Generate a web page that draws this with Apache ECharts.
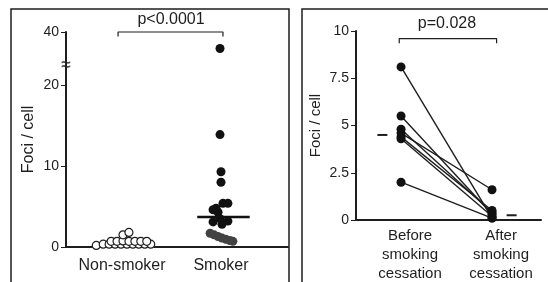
<!DOCTYPE html>
<html>
<head>
    <meta charset="utf-8">
    <title>Foci per cell</title>
</head>
<body style="margin:0;background:#fff;">
    <div id="main" style="width: 548px;height:282px;"></div>
</body>
<script src="https://cdn.jsdelivr.net/npm/echarts@6/dist/echarts.min.js"></script>
<script>
// left panel: smokers vs non-smokers (x = group position with jitter)
var groupNames = ['Non-smoker', 'Smoker'];
var nonSmokerX = [0.74, 0.81, 0.87, 0.93, 0.99, 1.05, 1.11, 1.17, 1.23, 1.29, 0.89, 0.95, 1.01, 1.07, 1.13, 1.19, 1.25, 1.01, 1.07];
var nonSmokerFoci = [0.2, 0.35, 0.35, 0.35, 0.35, 0.35, 0.35, 0.35, 0.35, 0.35, 0.7, 0.7, 0.75, 0.7, 0.7, 0.7, 0.7, 1.5, 1.8];
var smokerX = [1.99, 1.99, 2.00, 2.00, 2.02, 2.07, 1.95, 1.92, 1.97, 1.92, 2.07, 2.01, 1.99];
var smokerFoci = [38, 13.9, 9.3, 8.0, 5.4, 5.4, 4.8, 4.6, 4.3, 3.1, 3.2, 2.8, 3.5];
var smokerLowX = [1.89, 1.93, 1.97, 2.01, 2.05, 2.09, 2.12];
var smokerLowFoci = [1.7, 1.5, 1.3, 1.1, 0.95, 0.8, 0.7];
var smokerMedian = 3.7;
var leftTicksLow = [0, 10, 20];
var leftTicksHigh = [40];
var leftBreak = [22.5, 36];   // axis is cut between these two values

// right panel: paired values before / after cessation
var pairNames = ['Before\nsmoking\ncessation', 'After\nsmoking\ncessation'];
var beforeFoci = [8.1, 5.5, 4.8, 4.6, 4.4, 4.3, 2.0];
var afterFoci = [0.1, 0.3, 0.4, 1.6, 0.5, 0.2, 0.1];
var beforeMean = 4.5;
var afterMean = 0.25;

var ink = '#1e1e1e';
var font = 'Liberation Sans, Arial, sans-serif';
var xMinL = 0.434, xMaxL = 2.677;

var myChart = echarts.init(document.getElementById('main'));

var smokerPts = smokerX.map(function (x, i) { return [x, smokerFoci[i]]; });
var smokerLower = smokerPts.filter(function (p) { return p[1] <= leftBreak[0]; });
var smokerUpper = smokerPts.filter(function (p) { return p[1] >= leftBreak[1]; });

var series = [];
// left, lower part of the cut axis
series.push({
    type: 'scatter', xAxisIndex: 0, yAxisIndex: 0,
    symbolSize: 8,
    itemStyle: { color: '#fff', borderColor: ink, borderWidth: 1.2, opacity: 1 },
    data: nonSmokerX.map(function (x, i) { return [x, nonSmokerFoci[i]]; }),
    z: 3
});
series.push({
    type: 'scatter', xAxisIndex: 0, yAxisIndex: 0,
    symbolSize: 9,
    itemStyle: { color: '#424242', opacity: 1 },
    data: smokerLowX.map(function (x, i) { return [x, smokerLowFoci[i]]; }),
    z: 3
});
series.push({
    type: 'scatter', xAxisIndex: 0, yAxisIndex: 0,
    symbolSize: 9,
    itemStyle: { color: '#111', opacity: 1 },
    data: smokerLower,
    z: 3
});
series.push({
    type: 'line', xAxisIndex: 0, yAxisIndex: 0,
    symbol: 'none', silent: true,
    lineStyle: { color: '#111', width: 2.5 },
    data: [[1.76, smokerMedian], [2.29, smokerMedian]],
    z: 4
});
// break mark on the left y axis
series.push({
    type: 'scatter', xAxisIndex: 0, yAxisIndex: 0,
    symbolSize: 1, silent: true, clip: false,
    itemStyle: { color: 'rgba(0,0,0,0)' },
    label: { show: true, position: 'inside', formatter: '\u2248', fontSize: 17, fontWeight: 'bold', color: ink, fontFamily: font },
    data: [[xMinL, leftBreak[0]]],
    z: 5
});
// left, upper part
series.push({
    type: 'scatter', xAxisIndex: 1, yAxisIndex: 1,
    symbolSize: 9, clip: false,
    itemStyle: { color: '#111', opacity: 1 },
    data: smokerUpper,
    z: 3
});
series.push({
    type: 'line', xAxisIndex: 1, yAxisIndex: 1,
    symbol: 'none', silent: true, clip: false,
    lineStyle: { color: ink, width: 1.2 },
    data: [[0.96, 39.45], [0.96, 40], [2.02, 40], [2.02, 39.45]]
});

// right: one line per person
beforeFoci.forEach(function (b, i) {
    series.push({
        type: 'line', xAxisIndex: 2, yAxisIndex: 2,
        symbol: 'circle', symbolSize: 9,
        itemStyle: { color: '#111' },
        lineStyle: { color: ink, width: 1.4 },
        data: [[1, b], [2, afterFoci[i]]]
    });
});
series.push({
    type: 'line', xAxisIndex: 2, yAxisIndex: 2,
    symbol: 'none', silent: true,
    lineStyle: { color: ink, width: 2 },
    data: [[0.74, beforeMean], [0.85, beforeMean]]
});
series.push({
    type: 'line', xAxisIndex: 2, yAxisIndex: 2,
    symbol: 'none', silent: true,
    lineStyle: { color: ink, width: 2 },
    data: [[2.16, afterMean], [2.27, afterMean]]
});
series.push({
    type: 'line', xAxisIndex: 2, yAxisIndex: 2,
    symbol: 'none', silent: true, clip: false,
    lineStyle: { color: ink, width: 1.2 },
    data: [[0.98, 9.35], [0.98, 9.6], [2.05, 9.6], [2.05, 9.35]]
});

var plainAxis = {
    splitLine: { show: false },
    axisLine: { show: true, lineStyle: { color: ink, width: 2 } },
    axisTick: { show: false }
};

myChart.setOption({
    animation: false,
    textStyle: { fontFamily: font },
    grid: [
        { left: 66, right: 260, top: 65, bottom: 35, outerBoundsMode: 'none' },
        { left: 66, right: 260, top: 32, height: 33, outerBoundsMode: 'none' },
        { left: 356, right: 7, top: 31, bottom: 62, outerBoundsMode: 'none' },
        { left: 66, right: 260, top: 32, bottom: 35, outerBoundsMode: 'none' }
    ],
    xAxis: [
        echarts.util.merge({
            gridIndex: 0, type: 'value', min: xMinL, max: xMaxL,
            axisLabel: {
                customValues: [1, 2],
                formatter: function (v) { return groupNames[Math.round(v) - 1]; },
                fontSize: 16, color: ink, margin: 11
            }
        }, plainAxis),
        { gridIndex: 1, type: 'value', min: xMinL, max: xMaxL, show: false },
        echarts.util.merge({
            gridIndex: 2, type: 'value', min: 0.505, max: 2.538,
            axisLabel: {
                customValues: [1, 2],
                formatter: function (v) { return pairNames[Math.round(v) - 1]; },
                fontSize: 15, lineHeight: 19, color: ink, margin: 6,
                padding: [0, 0, 0, 18]
            }
        }, plainAxis),
        { gridIndex: 3, type: 'value', min: xMinL, max: xMaxL, show: false }
    ],
    yAxis: [
        {
            gridIndex: 0, type: 'value', min: 0, max: leftBreak[0],
            splitLine: { show: false },
            axisLine: { show: true, lineStyle: { color: ink, width: 2 } },
            axisTick: { show: true, length: 5, customValues: leftTicksLow, lineStyle: { color: ink, width: 1 } },
            axisLabel: { fontSize: 14, color: ink, margin: 7, customValues: leftTicksLow }
        },
        {
            gridIndex: 1, type: 'value', min: leftBreak[1], max: 40,
            splitLine: { show: false },
            axisLine: { show: true, lineStyle: { color: ink, width: 2 } },
            axisTick: { show: true, length: 5, customValues: leftTicksHigh, lineStyle: { color: ink, width: 1 } },
            axisLabel: { fontSize: 14, color: ink, margin: 7, customValues: leftTicksHigh }
        },
        {
            gridIndex: 2, type: 'value', min: 0, max: 10, interval: 2.5,
            name: 'Foci / cell', nameLocation: 'middle', nameGap: 33,
            nameTextStyle: { fontSize: 15, color: ink },
            splitLine: { show: false },
            axisLine: { show: true, lineStyle: { color: ink, width: 2 } },
            axisTick: { show: true, length: 5, lineStyle: { color: ink, width: 1 } },
            axisLabel: { fontSize: 14, color: ink, margin: 7 }
        },
        {
            // only carries the left axis title, centred on the whole cut axis
            gridIndex: 3, type: 'value', min: 0, max: 40,
            name: 'Foci / cell', nameLocation: 'middle', nameGap: 29,
            nameTextStyle: { fontSize: 16, color: ink },
            splitLine: { show: false },
            axisLine: { show: false },
            axisTick: { show: false },
            axisLabel: { show: false }
        }
    ],
    graphic: [
        { type: 'rect', shape: { x: 11, y: 9, width: 278, height: 300 }, style: { fill: 'none', stroke: ink, lineWidth: 1.5 } },
        { type: 'rect', shape: { x: 302, y: 9, width: 250, height: 300 }, style: { fill: 'none', stroke: ink, lineWidth: 1.5 } },
        { type: 'text', x: 171, y: 12, style: { text: 'p<0.0001', fill: ink, align: 'center', font: '16px ' + font } },
        { type: 'text', x: 447, y: 16, style: { text: 'p=0.028', fill: ink, align: 'center', font: '16px ' + font } }
    ],
    series: series
});
</script>
</html>
